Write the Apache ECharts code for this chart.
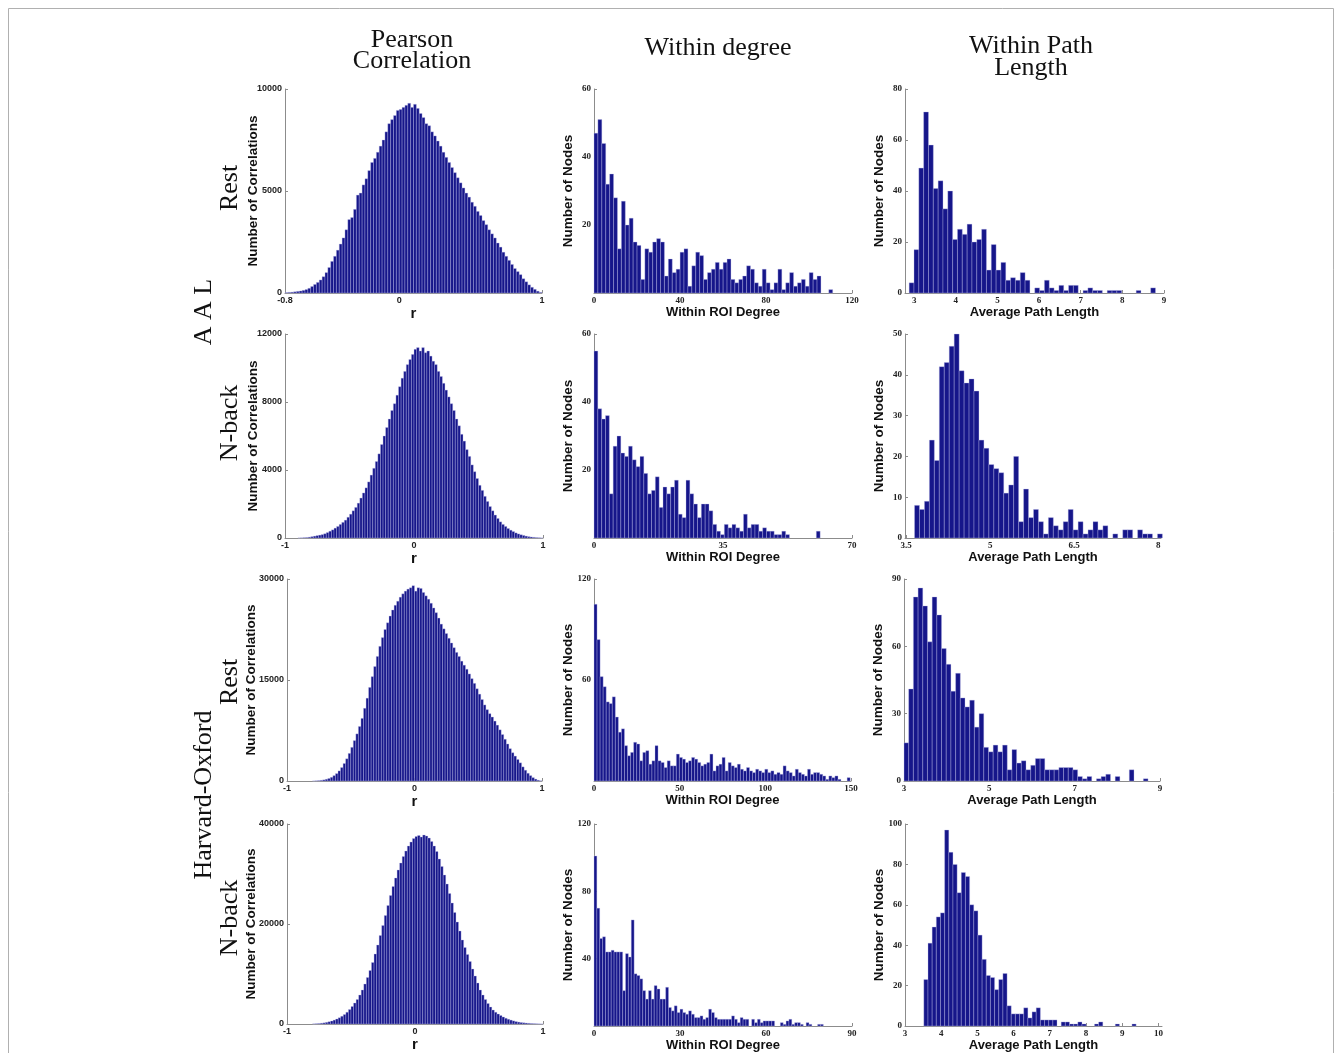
<!DOCTYPE html>
<html>
<head>
<meta charset="utf-8">
<script src="https://cdn.jsdelivr.net/npm/echarts@6/dist/echarts.min.js"></script>
<style>
  html, body { margin: 0; padding: 0; background: #fff; }
  #chart { width: 1342px; height: 1053px; }
</style>
</head>
<body>
<div id="chart"></div>
<script>
// titles
const colTitles = ['Pearson\nCorrelation', 'Within degree', 'Within Path\nLength'];
const rowTitles = ['Rest', 'N-back', 'Rest', 'N-back'];
const atlasTitles = ['A A L', 'Harvard-Oxford'];
const xNames = ['r', 'Within ROI Degree', 'Average Path Length'];
const yNames = ['Number of Correlations', 'Number of Nodes', 'Number of Nodes'];

// Pearson correlation histograms, bin width 0.02
const aalRestR = [20,30,40,60,80,100,130,170,230,320,420,520,640,800,1000,1250,1550,1800,2100,2400,
  2700,3100,3600,3700,4100,4800,4900,5300,5600,6000,6400,6600,6900,7200,7500,7900,8300,8500,8700,8950,
  9000,9100,9200,9300,9100,9250,9050,8800,8600,8300,8200,7900,7700,7450,7200,6900,6650,6400,6150,5900,
  5650,5400,5150,4900,4700,4450,4250,4000,3800,3550,3350,3100,2900,2700,2450,2250,2000,1800,1600,1400,
  1200,1050,900,700,550,400,280,180,90,30];
const aalNbackR = [0,0,0,0,0,5,10,20,30,50,80,110,140,170,200,250,320,400,480,580,
  680,800,920,1050,1220,1400,1600,1800,2050,2350,2650,2950,3300,3700,4100,4500,4950,5500,6000,6500,
  7000,7500,7900,8400,8900,9400,9800,10200,10500,10800,11100,11200,11000,11200,10900,11000,10700,10400,10200,9800,
  9500,9100,8700,8300,7900,7500,7000,6600,6100,5700,5200,4800,4300,3900,3500,3100,2800,2450,2150,1850,
  1600,1350,1150,950,800,680,560,460,380,300,240,190,150,110,80,60,40,25,15,5];
const hoRestR = [0,0,0,0,0,0,0,0,0,0,10,30,60,100,170,260,380,550,800,1100,
  1500,2000,2600,3300,4100,5000,6000,7000,8100,9300,10800,12300,13900,15500,17000,18500,20000,21300,22500,23500,
  24500,25400,26100,26700,27300,27800,28200,28500,28700,29000,28200,28700,28600,28000,27500,27000,26400,25700,25000,24200,
  23300,22600,21900,21200,20500,19800,19100,18500,17800,17200,16600,15900,15200,14500,13700,12900,12100,11300,10600,10000,
  9500,8900,8300,7600,6900,6200,5500,4800,4200,3700,3200,2700,2100,1600,1150,800,500,280,120,30];
const hoNbackR = [0,0,0,0,0,0,0,0,0,0,30,60,100,160,230,330,450,600,780,1000,
  1250,1550,1900,2350,2900,3500,4200,4900,5800,6800,8000,9300,10700,12300,14000,15800,17700,19700,21700,23700,
  25700,27500,29200,30800,32200,33500,34600,35600,36400,37100,37500,37700,37400,37800,37600,37200,36500,35600,34500,33000,
  31500,29800,28000,26100,24200,22300,20400,18600,16800,15300,13900,12500,11000,9600,8200,6800,5800,4900,4100,3400,
  2800,2350,2000,1700,1400,1150,950,780,620,480,380,300,240,190,140,100,70,45,25,10];

// within ROI degree histograms
const aalRestDeg = [47,51,44,32,35,28,13,27,20,22,15,14,4,13,12,15,16,15,5,10,6,7,12,13,2,8,12,11,4,6,
  7,9,7,9,10,4,3,4,5,8,7,3,2,7,3,1,3,7,1,3,6,2,3,4,2,6,4,5,0,0,1];
const aalNbackDeg = [55,38,35,36,13,27,30,25,24,27,23,21,24,19,13,14,18,9,15,13,15,17,7,6,17,13,10,6,10,10,
  8,4,2,1,4,3,4,3,2,7,3,4,4,2,3,2,2,1,1,2,1,0,0,0,0,0,0,0,2];
const hoRestDeg = [105,84,62,56,47,46,50,38,29,31,21,15,17,23,22,12,17,18,10,12,21,12,11,8,12,9,9,16,14,13,
  11,12,14,13,11,9,10,11,16,6,9,10,14,6,11,9,8,10,7,6,8,6,5,7,6,5,7,5,6,4,
  5,4,9,6,5,3,7,5,4,3,7,4,5,5,4,3,1,3,2,3,1,0,0,2];
const hoNbackDeg = [101,70,52,53,44,44,45,44,44,44,21,43,41,63,31,30,28,21,16,21,16,24,22,16,16,23,11,9,12,8,
  10,8,7,9,7,5,5,6,4,5,10,8,5,4,4,4,4,4,6,4,2,5,4,4,0,4,2,4,2,3,
  3,3,3,0,0,2,1,3,4,1,2,2,1,0,2,1,0,0,1,1,0];

// average path length histograms
const aalRestPath = [4,17,49,71,58,41,44,33,40,21,25,23,27,20,21,25,9,19,9,12,5,6,5,8,5,0,2,1,5,2,
  1,3,1,3,3,0,1,2,1,1,0,1,1,1,0,0,0,1,0,0,2];
const aalNbackPath = [8,7,9,24,19,42,43,47,50,41,38,39,36,24,22,18,17,16,11,13,20,4,12,5,7,4,1,5,3,2,
  4,7,2,4,1,2,4,2,3,0,1,0,2,2,0,2,1,1,0,1];
const hoRestPath = [17,41,82,86,78,62,82,74,59,52,40,48,37,33,36,24,30,15,13,16,13,16,5,14,8,9,5,7,10,10,
  5,5,5,6,6,6,5,2,1,2,0,1,2,3,0,2,0,0,5,0,0,1];
const hoNbackPath = [23,41,49,54,56,97,86,80,66,76,74,60,57,45,33,25,24,18,23,26,10,6,6,6,9,4,7,9,3,3,
  3,3,0,2,2,1,1,2,1,0,0,1,2,0,0,0,1,0,0,0,1];

// tick labels
const xTicksR08 = [-0.8, 0, 1];
const xTicksR1 = [-1, 0, 1];
const xTicksDeg120 = [0, 40, 80, 120];
const xTicksDeg70 = [0, 35, 70];
const xTicksDeg150 = [0, 50, 100, 150];
const xTicksDeg90 = [0, 30, 60, 90];
const xTicksPath39 = [3, 4, 5, 6, 7, 8, 9];
const xTicksPath358 = [3.5, 5, 6.5, 8];
const xTicksPath39b = [3, 5, 7, 9];
const xTicksPath310 = [3, 4, 5, 6, 7, 8, 9, 10];
const yTicks10000 = [0, 5000, 10000];
const yTicks12000 = [0, 4000, 8000, 12000];
const yTicks30000 = [0, 15000, 30000];
const yTicks40000 = [0, 20000, 40000];
const yLabels60 = [20, 40, 60];
const yLabels120a = [60, 120];
const yLabels120b = [40, 80, 120];
const yTicks80 = [0, 20, 40, 60, 80];
const yTicks50 = [0, 10, 20, 30, 40, 50];
const yTicks90 = [0, 30, 60, 90];
const yTicks100 = [0, 20, 40, 60, 80, 100];

const panels = [
  {data: aalRestR, start: -0.8, bin: 0.02, xMin: -0.8, xMax: 1, xTicks: xTicksR08, yMax: 10000, yTicks: yTicks10000},
  {data: aalRestDeg, start: 0, bin: 1.82, xMin: 0, xMax: 120, xTicks: xTicksDeg120, yMax: 60, yTicks: yLabels60},
  {data: aalRestPath, start: 2.88, bin: 0.116, xMin: 2.78, xMax: 9, xTicks: xTicksPath39, yMax: 80, yTicks: yTicks80},
  {data: aalNbackR, start: -1, bin: 0.02, xMin: -1, xMax: 1, xTicks: xTicksR1, yMax: 12000, yTicks: yTicks12000},
  {data: aalNbackDeg, start: 0, bin: 1.04, xMin: 0, xMax: 70, xTicks: xTicksDeg70, yMax: 60, yTicks: yLabels60},
  {data: aalNbackPath, start: 3.65, bin: 0.0885, xMin: 3.48, xMax: 8.05, xTicks: xTicksPath358, yMax: 50, yTicks: yTicks50},
  {data: hoRestR, start: -1, bin: 0.02, xMin: -1, xMax: 1, xTicks: xTicksR1, yMax: 30000, yTicks: yTicks30000},
  {data: hoRestDeg, start: 0, bin: 1.78, xMin: 0, xMax: 150, xTicks: xTicksDeg150, yMax: 120, yTicks: yLabels120a},
  {data: hoRestPath, start: 3, bin: 0.11, xMin: 3, xMax: 9, xTicks: xTicksPath39b, yMax: 90, yTicks: yTicks90},
  {data: hoNbackR, start: -1, bin: 0.02, xMin: -1, xMax: 1, xTicks: xTicksR1, yMax: 40000, yTicks: yTicks40000},
  {data: hoNbackDeg, start: 0, bin: 1, xMin: 0, xMax: 90, xTicks: xTicksDeg90, yMax: 120, yTicks: yLabels120b},
  {data: hoNbackPath, start: 3.52, bin: 0.115, xMin: 3, xMax: 10.1, xTicks: xTicksPath310, yMax: 100, yTicks: yTicks100}
];

// plot area of each panel: left, top, width, height
const rects = [
  [285, 89, 257, 204], [594, 89, 258, 204], [905, 89, 259, 204],
  [285, 334, 258, 204], [594, 334, 258, 204], [905, 334, 256, 204],
  [287, 579, 255, 202], [594, 579, 257, 202], [904, 579, 256, 202],
  [287, 824, 256, 202], [594, 824, 258, 202], [905, 824, 257, 202]
];
// distance of the y axis name from the axis line, per panel
const yNameGaps = [25, 19, 19, 25, 19, 19, 29, 19, 19, 29, 19, 19];

const sans = '"Liberation Sans", Arial, sans-serif';
const serif = '"Liberation Serif", "Times New Roman", serif';
const barColor = '#16168a';
const edgeColor = 'rgba(190,190,235,0.7)';
const axisColor = '#8c8c8c';

function renderBar (params, api) {
  const c = api.value(2);
  if (!c) return null;
  const p0 = api.coord([api.value(0), c]);
  const p1 = api.coord([api.value(1), 0]);
  return {
    type: 'rect',
    shape: {x: p0[0], y: p0[1], width: p1[0] - p0[0], height: p1[1] - p0[1]},
    style: {fill: barColor, stroke: edgeColor, lineWidth: 0.5}
  };
}

const grid = [], xAxis = [], yAxis = [], series = [];
panels.forEach((p, i) => {
  const col = i % 3;
  const r = rects[i];
  const labelFont = col === 0 ? sans : serif;
  grid.push({left: r[0], top: r[1], width: r[2], height: r[3], containLabel: false});
  xAxis.push({
    gridIndex: i, type: 'value', min: p.xMin, max: p.xMax,
    axisLine: {show: true, onZero: false, lineStyle: {color: axisColor, width: 1}},
    axisTick: {show: true, inside: true, length: 3, customValues: p.xTicks, lineStyle: {color: axisColor}},
    axisLabel: {customValues: p.xTicks, formatter: v => String(v), fontSize: 9, fontWeight: 'bold',
      fontFamily: labelFont, color: '#222', margin: 3},
    splitLine: {show: false},
    name: xNames[col], nameLocation: 'middle', nameGap: 13, nameMoveOverlap: false,
    nameTextStyle: {fontFamily: sans, fontWeight: 'bold', fontSize: col === 0 ? 15 : 13, color: '#111'}
  });
  yAxis.push({
    gridIndex: i, type: 'value', min: 0, max: p.yMax,
    axisLine: {show: true, onZero: false, lineStyle: {color: axisColor, width: 1}},
    axisTick: {show: true, inside: true, length: 3, customValues: p.yTicks, lineStyle: {color: axisColor}},
    axisLabel: {customValues: p.yTicks, formatter: v => String(v), fontSize: 9, fontWeight: 'bold',
      fontFamily: labelFont, color: '#222', margin: 3},
    splitLine: {show: false},
    name: yNames[col], nameLocation: 'middle', nameGap: yNameGaps[i], nameMoveOverlap: false,
    nameTextStyle: {fontFamily: sans, fontWeight: 'bold', fontSize: 13.5, color: '#111'}
  });
  series.push({
    type: 'custom', xAxisIndex: i, yAxisIndex: i,
    renderItem: renderBar, silent: true, animation: false,
    encode: {x: [0, 1], y: 2},
    data: p.data.map((c, k) => [p.start + k * p.bin, p.start + (k + 1) * p.bin, c])
  });
});

const titleFont = '26px ' + serif;
const graphic = [
  {type: 'rect', shape: {x: 8.5, y: 8.5, width: 1325, height: 1070}, style: {fill: 'none', stroke: '#b0b0b0', lineWidth: 1}},
  {type: 'text', x: 412, y: 51, style: {text: colTitles[0], font: titleFont, align: 'center', verticalAlign: 'middle', lineHeight: 21, fill: '#111'}},
  {type: 'text', x: 718, y: 48, style: {text: colTitles[1], font: titleFont, align: 'center', verticalAlign: 'middle', fill: '#111'}},
  {type: 'text', x: 1031, y: 57, style: {text: colTitles[2], font: titleFont, align: 'center', verticalAlign: 'middle', lineHeight: 22, fill: '#111'}}
];
const rowCenters = [188, 423, 682, 918];
rowTitles.forEach((t, i) => {
  graphic.push({type: 'text', x: 230, y: rowCenters[i], rotation: Math.PI / 2,
    style: {text: t, font: titleFont, align: 'center', verticalAlign: 'middle', fill: '#111'}});
});
const atlasCenters = [312, 795];
atlasTitles.forEach((t, i) => {
  graphic.push({type: 'text', x: 204, y: atlasCenters[i], rotation: Math.PI / 2,
    style: {text: t, font: titleFont, align: 'center', verticalAlign: 'middle', fill: '#111'}});
});

const chart = echarts.init(document.getElementById('chart'));
chart.setOption({
  backgroundColor: '#fff',
  animation: false,
  grid, xAxis, yAxis, series, graphic
});
</script>
</body>
</html>
